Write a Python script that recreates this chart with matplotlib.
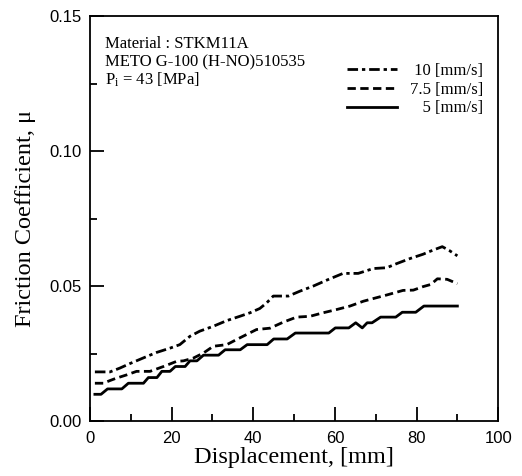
import matplotlib
matplotlib.use("Agg")
import matplotlib.pyplot as plt
from matplotlib.ticker import MultipleLocator, FormatStrFormatter

plt.rcParams['mathtext.fontset'] = 'custom'
plt.rcParams['mathtext.rm'] = 'Liberation Serif'
plt.rcParams['mathtext.it'] = 'Liberation Serif:italic'

# ---- data ----
x10 = [1.2, 4.9, 7.3, 9.8, 13.1, 16.3, 19.6, 22.0, 24.5, 26.9, 30.2, 33.5, 36.7, 39.2,
       41.6, 43.3, 44.9, 48.6, 51.4, 54.7, 58.0, 62.0, 65.7, 69.4, 72.7, 75.1, 78.4,
       81.6, 84.0, 86.3, 88.0, 90.0]
y10 = [0.0182, 0.0182, 0.0196, 0.0213, 0.0234, 0.0254, 0.0270, 0.0283, 0.0314, 0.0333,
       0.0351, 0.0372, 0.0388, 0.0401, 0.0417, 0.0438, 0.0463, 0.0463, 0.0481, 0.0500,
       0.0522, 0.0547, 0.0547, 0.0565, 0.0568, 0.0583, 0.0602, 0.0618, 0.0633, 0.0646,
       0.0632, 0.0612]

x75 = [1.2, 3.3, 4.9, 6.5, 9.0, 11.4, 14.7, 18.0, 21.2, 22.9, 25.3, 27.8, 30.2, 33.5,
       36.7, 40.8, 44.1, 47.3, 50.6, 53.9, 57.1, 60.4, 63.7, 67.0, 70.2, 72.7, 76.7,
       79.2, 81.6, 83.5, 85.1, 87.5, 90.0]
y75 = [0.0140, 0.0140, 0.0150, 0.0159, 0.0171, 0.0184, 0.0184, 0.0202, 0.0221, 0.0223,
       0.0233, 0.0252, 0.0277, 0.0283, 0.0308, 0.0339, 0.0344, 0.0366, 0.0385, 0.0388,
       0.0401, 0.0413, 0.0426, 0.0444, 0.0457, 0.0467, 0.0484, 0.0485, 0.0498, 0.0506,
       0.0527, 0.0525, 0.0509]

x5 = [1.2, 2.7, 4.3, 7.8, 9.4, 13.1, 14.3, 16.4, 17.6, 19.6, 20.9, 23.3, 24.5, 26.2,
      27.8, 31.5, 33.1, 36.8, 38.5, 43.4, 45.0, 48.3, 50.3, 58.5, 60.1, 63.4, 65.1,
      66.7, 67.9, 69.1, 71.2, 74.9, 76.5, 79.8, 81.8, 90.0]
y5 = [0.0099, 0.0099, 0.0119, 0.0119, 0.0140, 0.0140, 0.0161, 0.0161, 0.0184, 0.0184,
      0.0202, 0.0202, 0.0223, 0.0223, 0.0244, 0.0244, 0.0264, 0.0264, 0.0283, 0.0283,
      0.0304, 0.0304, 0.0326, 0.0326, 0.0345, 0.0345, 0.0364, 0.0345, 0.0364, 0.0364,
      0.0385, 0.0385, 0.0403, 0.0403, 0.0426, 0.0426]

labels = ["\u200810 [mm/s]", "7.5 [mm/s]", "\u2007\u20085 [mm/s]"]
xticks = [0, 20, 40, 60, 80, 100]
yticks = [0.00, 0.05, 0.10, 0.15]

serif = ['Liberation Serif', 'DejaVu Serif']
sans = ['Liberation Sans', 'DejaVu Sans']

fig = plt.figure(figsize=(5.22, 4.76), dpi=100)
ax = fig.add_axes([0.1724, 0.1155, 0.782, 0.8505])

lw = 2.0
ax.plot(x10, y10, color='black', lw=lw, linestyle=(0, (3.8, 1.4, 1.2, 1.4)), label=labels[0])
ax.plot(x75, y75, color='black', lw=lw, linestyle=(0, (3.0, 1.6)), label=labels[1])
ax.plot(x5, y5, color='black', lw=lw, linestyle='-', label=labels[2])

ax.set_xlim(0, 100)
ax.set_ylim(0, 0.15)
ax.set_xticks(xticks)
ax.set_yticks(yticks)
ax.xaxis.set_minor_locator(MultipleLocator(10))
ax.yaxis.set_minor_locator(MultipleLocator(0.025))
ax.yaxis.set_major_formatter(FormatStrFormatter('%.2f'))

for s in ax.spines.values():
    s.set_linewidth(1.3)

ax.tick_params(which='both', direction='in', top=False, right=False, width=1.3)
ax.tick_params(which='major', length=10)
ax.tick_params(which='minor', length=5)
ax.tick_params(axis='y', which='major', pad=6)
ax.tick_params(axis='x', which='major', pad=7)
for lab in ax.get_xticklabels() + ax.get_yticklabels():
    lab.set_family(sans)
    lab.set_fontsize(12)

ax.set_xlabel("Displacement, [mm]", family=serif, fontsize=17.5, labelpad=1)
ax.set_ylabel("Friction Coefficient, \u03bc", family=serif, fontsize=17.5, labelpad=10)

ax.text(0.037, 0.922, "Material : STKM11A", transform=ax.transAxes, family=serif,
        fontsize=12, va='baseline', ha='left')
ax.text(0.037, 0.877, "METO G-100 (H-NO)510535", transform=ax.transAxes, family=serif,
        fontsize=12, va='baseline', ha='left')
ax.text(0.037, 0.831, r"P$_{\mathrm{i}}$ = 43 [MPa]", transform=ax.transAxes, family=serif,
        fontsize=12, va='baseline', ha='left')

leg = ax.legend(loc='upper right', bbox_to_anchor=(0.963, 0.885), frameon=False,
                prop={'family': serif, 'size': 12}, handlelength=3.0, handletextpad=0.75,
                labelspacing=0.17, borderpad=0, borderaxespad=0)

fig.savefig("out.png", dpi=100)
